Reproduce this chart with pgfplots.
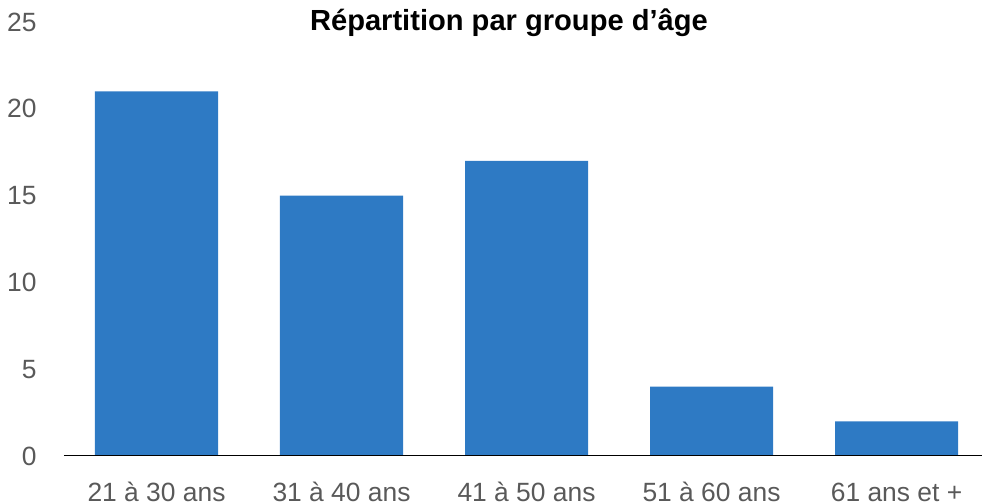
\documentclass[border=0pt]{standalone}
\usepackage{fontspec}
\setmainfont{Liberation Sans}
\usepackage{pgfplots}
\pgfplotsset{compat=1.18}
\definecolor{barblue}{HTML}{2E7AC4}
\definecolor{ticktext}{HTML}{595959}
\definecolor{baseline}{HTML}{D0D0D0}
\begin{document}
\begin{tikzpicture}
\begin{axis}[
  scale only axis,
  width=459pt, height=217pt,
  xmin=-0.5, xmax=4.462,
  ymin=0, ymax=25,
  ytick={0,5,...,25},
  xtick={0,...,4},
  xticklabels={21 à 30 ans, 31 à 40 ans, 41 à 50 ans, 51 à 60 ans, 61 ans et +},
  axis line style={draw=none},
  major tick length=0pt,
  tick style={draw=none},
  /pgf/number format/assume math mode=true,
  yticklabel style={font=\fontsize{13.2}{15}\selectfont, text=ticktext,
    anchor=east, inner sep=0pt, xshift=-13.5pt},
  xticklabel style={font=\fontsize{13.2}{15}\selectfont, text=ticktext,
    anchor=base, inner sep=0pt, yshift=-22.8pt},
  title={Répartition par groupe d’âge},
  title style={font=\fontsize{14.55}{16}\selectfont\bfseries,
    at={(0.4847,1)}, anchor=base, inner sep=0pt, yshift=-10.5pt},
  ybar,
  bar width=0.665,
]
\addplot[fill=barblue, draw=none] coordinates
  {(0,21) (1,15) (2,17) (3,4) (4,2)};
\draw[baseline, line width=0.75pt] (rel axis cs:0,0) -- (rel axis cs:1,0);
\end{axis}
\pgfresetboundingbox
\path[use as bounding box] ([xshift=-32pt,yshift=-23.5pt]current axis.south west)
  rectangle ([yshift=11pt]current axis.north east);
\end{tikzpicture}
\end{document}
